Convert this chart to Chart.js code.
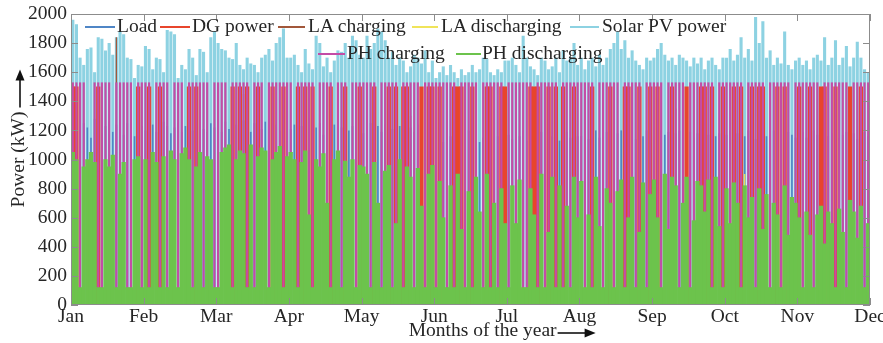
<!DOCTYPE html>
<html><head><meta charset="utf-8">
<script src="https://cdn.jsdelivr.net/npm/chart.js@4.4.1/dist/chart.umd.min.js"></script>
<style>
html,body{margin:0;padding:0;background:#fff;}
#wrap{position:relative;width:883px;height:343px;overflow:hidden;background:#fff;}
#c{position:absolute;left:0;top:0;}
.lgt{position:absolute;font-family:'Liberation Serif','Times New Roman',serif;font-size:19.5px;line-height:20px;color:#262626;white-space:nowrap;}
.lgl{position:absolute;height:2px;}
</style></head><body>
<div id="wrap"><canvas id="c" width="883" height="343"></canvas><div id="legend"></div></div>
<script>
// ---------- data ----------
const monthLabels = ['Jan','Feb','Mar','Apr','May','Jun','Jul','Aug','Sep','Oct','Nov','Dec'];
const yTicks = [0,200,400,600,800,1000,1200,1400,1600,1800,2000];
const binsPerMonth = 20;

const solarPV = [
 1960,1930,1700,1650,1760,1770,1600,1840,1830,1750,1800,1720,1840,1880,1860,1700,1690,1560,1650,1640,
 1780,1760,1620,1700,1690,1600,1890,1880,1860,1560,1650,1620,1760,1700,1580,1760,1740,1600,1840,1880,
 1800,1760,1750,1700,1690,1800,1650,1620,1700,1660,1650,1600,1700,1720,1760,1680,1800,1840,1900,1700,
 1700,1720,1650,1600,1760,1660,1620,1850,1800,1640,1700,1600,1680,1750,1740,1800,1700,1850,1820,1720,
 1700,1850,1760,1800,1900,1880,1820,1700,1740,1650,1700,1680,1600,1640,1720,1700,1660,1750,1600,1680,
 1560,1600,1640,1580,1650,1600,1560,1620,1580,1600,1650,1600,1620,1700,1690,1600,1580,1620,1600,1680,
 1680,1700,1650,1600,1850,1700,1640,1620,1580,1700,1680,1620,1640,1700,1600,1750,1680,1700,1800,1650,
 1700,1620,1680,1700,1640,1720,1650,1700,1760,1800,1880,1760,1820,1700,1750,1680,1650,1620,1700,1680,
 1700,1760,1800,1720,1680,1700,1650,1720,1700,1680,1640,1700,1660,1700,1620,1680,1700,1650,1620,1700,
 1700,1760,1680,1720,1840,1700,1760,1680,1980,1800,1950,1700,1750,1650,1700,1660,1880,1650,1620,1680,
 1700,1650,1680,1620,1700,1720,1680,1840,1650,1700,1820,1650,1700,1780,1640,1700,1810,1700,1620,1600
];
const load = [
 1150,1200,1180,1250,1220,1150,1280,1200,1180,1230,1260,1190,1240,1210,1170,1250,1220,1160,1200,1230,
 1200,1170,1240,1190,1210,1260,1230,1180,1220,1250,1190,1230,1270,1200,1160,1240,1210,1190,1250,1220,
 1230,1190,1260,1210,1180,1240,1220,1270,1200,1190,1250,1230,1210,1260,1180,1220,1240,1200,1230,1190,
 1210,1240,1180,1230,1200,1260,1190,1220,1250,1170,1230,1210,1240,1180,1220,1260,1200,1230,1190,1250,
 1180,1220,1250,1200,1230,1190,1240,1260,1210,1180,1230,1250,1200,1220,1190,1240,1210,1230,1180,1200,
 1150,1180,1120,1200,1160,1130,1190,1170,1140,1200,1160,1180,1120,1150,1190,1170,1140,1160,1200,1180,
 1170,1140,1190,1160,1200,1130,1180,1150,1170,1190,1140,1200,1160,1180,1130,1170,1190,1150,1180,1160,
 1160,1190,1140,1180,1200,1150,1170,1190,1130,1160,1180,1200,1150,1170,1190,1140,1180,1160,1200,1170,
 1180,1150,1200,1170,1190,1140,1180,1200,1160,1170,1190,1150,1180,1200,1140,1170,1190,1160,1180,1150,
 1170,1200,1150,1180,1190,1160,1200,1170,1140,1180,1190,1160,1170,1200,1150,1180,1160,1190,1170,1150,
 1160,1190,1150,1180,1200,1170,1140,1190,1160,1180,1200,1150,1170,1190,1160,1180,1140,1170,1190,1160
];
const dgPower = [
 1500,1500,0,0,0,0,0,1500,0,0,0,0,0,0,0,0,0,0,1500,0,
 0,1500,0,0,1500,0,0,0,0,0,0,0,1500,0,1500,0,0,0,0,0,
 0,0,0,0,1500,0,1500,0,1500,0,0,1500,0,0,0,1500,0,0,1500,0,
 0,0,1500,0,1500,0,1500,0,0,0,0,1500,0,0,0,1500,0,0,0,1500,
 0,0,0,1500,0,0,0,1500,0,1500,0,1500,1500,0,0,0,1500,0,1500,1500,
 0,1500,0,0,0,1500,1500,1500,0,0,1500,0,0,0,1500,1500,0,0,1500,1500,
 0,0,0,0,0,0,1500,1500,1500,0,0,1500,0,1500,0,1500,0,0,1500,0,
 0,0,0,1500,0,0,0,0,1500,0,0,0,1500,1500,0,0,1500,0,0,1500,
 0,1500,0,0,0,1500,0,0,0,1500,0,0,0,1500,1500,0,1500,0,0,1500,
 0,0,1500,0,1500,0,0,1500,0,1500,1500,0,0,0,1500,0,1500,0,0,0,
 1500,0,0,1500,0,0,1500,1500,0,0,1500,0,0,0,1500,0,0,1500,0,0
];
const phCharging = [
 1530,1530,1530,1530,0,0,1530,1530,1530,1530,1530,0,1530,1530,1530,1530,1530,0,1530,1530,
 1530,1530,0,1530,1530,1530,1530,0,1530,1530,1530,0,1530,1530,1530,1530,1530,1530,0,1530,
 1530,1530,1530,0,1530,1530,1530,1530,1530,0,1530,1530,1530,0,1530,1530,1530,1530,1530,1530,
 1530,0,1530,1530,1530,1530,1530,0,1530,1530,1530,1530,0,1530,1530,1530,0,1530,1530,1530,
 1530,1530,1530,1530,0,1530,1530,1530,1530,1530,0,1530,1530,1530,1530,1530,0,1530,1530,1530,
 1530,1530,1530,1530,1530,1530,0,1530,1530,1530,1530,1530,0,1530,1530,1530,1530,1530,1530,0,
 1530,1530,1530,1530,1530,1530,1530,0,1530,1530,1530,1530,1530,1530,0,1530,1530,1530,1530,1530,
 1530,1530,1530,1530,0,1530,1530,1530,1530,1530,1530,0,1530,1530,1530,1530,1530,0,1530,1530,
 1530,1530,1530,0,1530,1530,1530,1530,1530,0,1530,1530,1530,1530,1530,1530,1530,0,1530,1530,
 1530,1530,1530,1530,1530,0,1530,1530,1530,1530,1530,0,1530,1530,1530,1530,1530,1530,0,1530,
 1530,1530,1530,1530,1530,1530,0,1530,1530,1530,1530,1530,1530,1530,0,1530,1530,1530,1530,1530
];
const phDischarging = [
 1050,1000,120,950,1000,1050,980,120,120,1000,950,1030,120,900,980,120,120,1000,1020,120,
 1000,120,1050,980,120,1020,120,1060,1000,120,1040,1080,1000,120,950,1050,120,1020,1000,120,
 120,1050,1080,1100,120,1000,1060,1040,120,1100,120,1020,1080,1060,120,1000,1050,1090,120,1020,
 1050,1000,120,980,1060,620,120,1000,950,1040,700,120,1000,1060,120,990,880,1000,120,960,
 950,900,120,980,700,120,920,960,120,560,1000,120,950,880,120,940,680,120,900,960,
 120,850,600,120,820,120,900,520,120,780,120,880,640,120,900,120,700,120,800,560,
 120,820,560,860,120,120,800,620,120,900,120,500,880,120,820,120,680,120,880,600,
 850,120,620,120,880,540,120,800,700,120,780,860,120,600,880,120,500,840,120,760,
 860,600,120,900,520,880,820,120,700,880,120,580,850,820,640,860,120,880,540,120,
 800,560,840,700,120,820,600,740,120,800,520,760,120,700,620,120,820,480,740,700,
 600,120,640,480,120,620,680,420,640,560,120,660,500,120,720,640,460,680,120,560
];
const laChargingBins = [12, 47, 93, 128, 166, 203];
const laChargingValues = [1840, 1450, 1300, 1400, 1350, 1450];
const laDischargingBins = [3, 121, 185];
const laDischargingValues = [1000, 800, 900];

// ---------- helpers ----------
const binX = b => (b + 0.5) / binsPerMonth;
const dense = arr => arr.map((v, i) => ({x: binX(i), y: v}));
const sparse = (bins, vals) => bins.map((b, k) => ({x: binX(b), y: vals[k]}));

const series = [
  {label:'Load',           color:'#4f86c6', data: dense(load),        order:6, bp:0.45},
  {label:'DG power',       color:'#e8452c', data: dense(dgPower),     order:5, bp:1.0},
  {label:'LA charging',    color:'#a2573a', data: sparse(laChargingBins, laChargingValues), order:3, bp:0.35},
  {label:'LA discharging', color:'#f0e45a', data: sparse(laDischargingBins, laDischargingValues), order:4, bp:0.35},
  {label:'Solar PV power', color:'#8dd2e2', data: dense(solarPV),     order:7, bp:0.85},
  {label:'PH charging',    color:'#c44ca6', data: dense(phCharging),  order:2, bp:0.6},
  {label:'PH discharging', color:'#6cc34c', data: dense(phDischarging), order:1, bp:1.0}
];

const FONT = "'Liberation Serif','Times New Roman',serif";
const TXT = '#262626';

// ---------- legend (HTML text) ----------
const legendLayout = [
  {lx:85,  lw:30, tx:117, y:27},
  {lx:160, lw:30, tx:192, y:27},
  {lx:278, lw:27, tx:308, y:27},
  {lx:412, lw:26, tx:441, y:27},
  {lx:570, lw:29, tx:602, y:27},
  {lx:318, lw:27, tx:347, y:54},
  {lx:456, lw:25, tx:482, y:54}
];
const lg = document.getElementById('legend');
series.forEach((s, i) => {
  const L = legendLayout[i];
  const line = document.createElement('div');
  line.className = 'lgl';
  line.style.cssText = `left:${L.lx}px;top:${L.y-1}px;width:${L.lw}px;background:${s.color};`;
  const t = document.createElement('div');
  t.className = 'lgt';
  t.style.cssText = `left:${L.tx}px;top:${L.y-11}px;`;
  t.textContent = s.label;
  lg.appendChild(line); lg.appendChild(t);
});

// ---------- frame, inward ticks and axis arrows ----------
const framePlugin = {
  id: 'frame',
  afterDraw(chart) {
    const {ctx, chartArea: a, scales: {x, y}} = chart;
    ctx.save();
    ctx.strokeStyle = '#8c8c8c';
    ctx.lineWidth = 1;
    ctx.strokeRect(a.left + 0.5, a.top + 0.5, a.right - a.left - 1, a.bottom - a.top - 1);
    ctx.beginPath();
    yTicks.forEach(v => {
      const py = Math.round(y.getPixelForValue(v)) + 0.5;
      ctx.moveTo(a.left, py); ctx.lineTo(a.left + 7, py);
      ctx.moveTo(a.right, py); ctx.lineTo(a.right - 7, py);
    });
    monthLabels.forEach((m, i) => {
      const px = Math.round(x.getPixelForValue(i)) + 0.5;
      ctx.moveTo(px, a.top); ctx.lineTo(px, a.top + 7);
      ctx.moveTo(px, a.bottom); ctx.lineTo(px, a.bottom - 7);
    });
    ctx.stroke();

    // arrows next to axis titles
    ctx.strokeStyle = '#111'; ctx.fillStyle = '#111'; ctx.lineWidth = 1.6;
    ctx.font = `19.5px ${FONT}`;
    const xt = chart.options.scales.x.title.text;
    const xw = ctx.measureText(xt).width;
    const xs = (x.left + x.right) / 2 + xw / 2 + 1, xe = xs + 38, ay = 333;
    ctx.beginPath(); ctx.moveTo(xs, ay); ctx.lineTo(xe - 8, ay); ctx.stroke();
    ctx.beginPath(); ctx.moveTo(xe, ay); ctx.lineTo(xe - 11, ay - 4.5); ctx.lineTo(xe - 11, ay + 4.5); ctx.closePath(); ctx.fill();
    const yt = chart.options.scales.y.title.text;
    const yw = ctx.measureText(yt).width;
    const ys = (a.top + a.bottom) / 2 - yw / 2 - 4, ye = ys - 38, ax = 20;
    ctx.beginPath(); ctx.moveTo(ax, ys); ctx.lineTo(ax, ye + 8); ctx.stroke();
    ctx.beginPath(); ctx.moveTo(ax, ye); ctx.lineTo(ax - 4.5, ye + 11); ctx.lineTo(ax + 4.5, ye + 11); ctx.closePath(); ctx.fill();
    ctx.restore();
  }
};

new Chart(document.getElementById('c'), {
  type: 'bar',
  data: {
    datasets: series.map(s => ({
      label: s.label, data: s.data, backgroundColor: s.color, borderWidth: 0,
      grouped: false, categoryPercentage: 1, barPercentage: s.bp, order: s.order
    }))
  },
  options: {
    responsive: false, animation: false, devicePixelRatio: 1,
    layout: {padding: {top: 14, right: 13, left: 0, bottom: 0}},
    plugins: {legend: {display: false}, tooltip: {enabled: false}},
    scales: {
      x: {
        type: 'linear', min: 0, max: 11, offset: false,
        grid: {display: false, drawTicks: false, offset: false}, border: {display: false},
        ticks: {stepSize: 1, autoSkip: false, maxRotation: 0, padding: 2, color: TXT,
                font: {family: FONT, size: 19.5, lineHeight: 1},
                callback: v => monthLabels[v] ?? ''},
        title: {display: true, text: '\u2002\u2002 Months of the year', color: TXT,
                font: {family: FONT, size: 19.5, lineHeight: 1.2}, padding: {top: 0, bottom: 0}},
        afterFit: s => { s.height = 38; s.paddingLeft = 0; s.paddingRight = 0; }
      },
      y: {
        min: 0, max: 2000,
        grid: {display: false, drawTicks: false}, border: {display: false},
        ticks: {stepSize: 200, padding: 4, color: TXT, font: {family: FONT, size: 19.5},
                callback: v => String(v)},
        title: {display: true, text: 'Power (kW)', color: TXT,
                font: {family: FONT, size: 19.5, lineHeight: 1.2}, padding: {top: 7, bottom: 0}},
        afterFit: s => { s.width = 71; s.paddingTop = 0; s.paddingBottom = 0; }
      }
    }
  },
  plugins: [framePlugin]
});
</script>
</body></html>
